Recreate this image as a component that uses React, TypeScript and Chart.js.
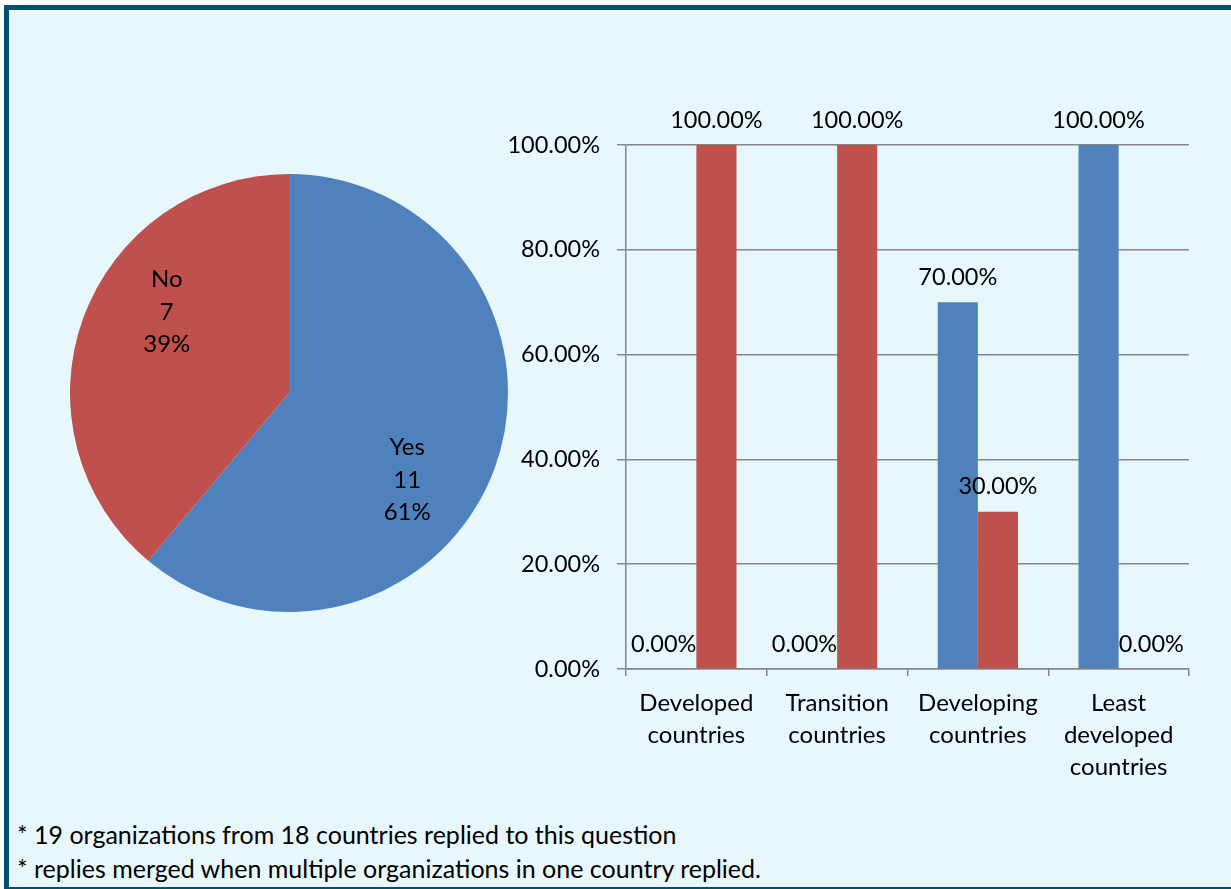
import React, { useEffect, useRef } from "react";
import { Chart, registerables } from "chart.js";

Chart.register(...registerables);

const pieLabels = ["Yes", "No"];
const pieValues = [11, 7];
const pieColors = ["#4F81BD", "#C0504D"];

const barCategories = [
  ["Developed", "countries"],
  ["Transition", "countries"],
  ["Developing", "countries"],
  ["Least", "developed", "countries"],
];
const seriesYes = [0, 0, 70, 100];
const seriesNo = [100, 100, 30, 0];
const yTicks = [0, 20, 40, 60, 80, 100];

const footnotes = [
  "* 19 organizations from 18 countries replied to this question",
  "* replies merged when multiple organizations in one country replied.",
];

const FONT = "Lato, 'Open Sans', sans-serif";
const FS = 24;
const FSN = 23.5;
const FSF = 25;
const GRID = "#868686";

const pieLabelPlugin = {
  id: "pieLabels",
  afterDatasetsDraw(chart: any) {
    const ctx = chart.ctx;
    const meta = chart.getDatasetMeta(0);
    const data = chart.data.datasets[0].data as number[];
    const total = data.reduce((a, b) => a + b, 0);
    const shift = (15 * Math.PI) / 180;
    ctx.save();
    ctx.font = `${FS}px ${FONT}`;
    ctx.fillStyle = "#000";
    ctx.textAlign = "center";
    ctx.textBaseline = "middle";
    meta.data.forEach((arc: any, i: number) => {
      const p = arc.getProps(["x", "y", "startAngle", "endAngle", "outerRadius"], true);
      const a = (p.startAngle + p.endAngle) / 2 + shift;
      const r = p.outerRadius * 0.67;
      const cx = p.x + Math.cos(a) * r - 2;
      const cy = p.y + Math.sin(a) * r + 3;
      const lines = [
        String(chart.data.labels[i]),
        String(data[i]),
        Math.round((data[i] / total) * 100) + "%",
      ];
      lines.forEach((t, k) => ctx.fillText(t, cx, cy + (k - 1) * 32.5));
    });
    ctx.restore();
  },
};

const barLabelPlugin = {
  id: "barLabels",
  afterDatasetsDraw(chart: any) {
    const ctx = chart.ctx;
    ctx.save();
    ctx.font = `${FSN}px ${FONT}`;
    ctx.fillStyle = "#000";
    ctx.textBaseline = "middle";
    chart.data.datasets.forEach((ds: any, di: number) => {
      const meta = chart.getDatasetMeta(di);
      meta.data.forEach((bar: any, i: number) => {
        const v = ds.data[i] as number;
        const p = bar.getProps(["x", "y", "width"], true);
        let x = p.x;
        if (v === 0) {
          if (di === 0) {
            ctx.textAlign = "right";
            x = p.x + p.width / 2;
          } else {
            ctx.textAlign = "left";
            x = p.x - p.width / 2;
          }
        } else {
          ctx.textAlign = "center";
        }
        ctx.fillText(v.toFixed(2) + "%", x, p.y - 25);
      });
    });
    ctx.restore();
  },
};

function PieChart() {
  const ref = useRef<HTMLCanvasElement>(null);
  useEffect(() => {
    const chart = new Chart(ref.current!, {
      type: "pie",
      data: {
        labels: pieLabels,
        datasets: [
          {
            data: pieValues,
            backgroundColor: pieColors,
            borderWidth: 0,
          },
        ],
      },
      options: {
        animation: false,
        responsive: false,
        maintainAspectRatio: false,
        layout: { padding: 10 },
        plugins: { legend: { display: false }, tooltip: { enabled: false } },
      },
      plugins: [pieLabelPlugin],
    });
    return () => chart.destroy();
  }, []);
  return (
    <canvas
      ref={ref}
      width={458}
      height={458}
      style={{ position: "absolute", left: 60, top: 164, width: 458, height: 458 }}
    />
  );
}

function BarChart() {
  const ref = useRef<HTMLCanvasElement>(null);
  useEffect(() => {
    const chart = new Chart(ref.current!, {
      type: "bar",
      data: {
        labels: barCategories as any,
        datasets: [
          { label: "Yes", data: seriesYes, backgroundColor: "#4F81BD", borderWidth: 0 },
          { label: "No", data: seriesNo, backgroundColor: "#C0504D", borderWidth: 0 },
        ],
      },
      options: {
        animation: false,
        responsive: false,
        maintainAspectRatio: false,
        layout: { padding: { top: 55, right: 31, left: 0, bottom: 0 } },
        datasets: { bar: { categoryPercentage: 0.57, barPercentage: 1.0 } },
        plugins: { legend: { display: false }, tooltip: { enabled: false } },
        scales: {
          x: {
            grid: {
              offset: true,
              drawOnChartArea: false,
              drawTicks: true,
              tickLength: 7,
              color: GRID,
              lineWidth: 1.5,
            },
            border: { color: GRID, width: 1.5 },
            ticks: {
              color: "#000",
              font: { family: FONT, size: FS, lineHeight: "32px" } as any,
              padding: 11,
              maxRotation: 0,
              autoSkip: false,
            },
            afterFit(scale: any) {
              scale.height = 121;
            },
          },
          y: {
            min: 0,
            max: 100,
            afterBuildTicks(scale: any) {
              scale.ticks = yTicks.map((v) => ({ value: v }));
            },
            grid: { color: GRID, lineWidth: 1.5, tickLength: 9 },
            border: { color: GRID, width: 1.5 },
            ticks: {
              color: "#000",
              font: { family: FONT, size: FSN },
              padding: 17,
              callback: (v: any) => Number(v).toFixed(2) + "%",
            },
            afterFit(scale: any) {
              scale.width = 136;
            },
          },
        },
      },
      plugins: [barLabelPlugin],
    });
    return () => chart.destroy();
  }, []);
  return (
    <canvas
      ref={ref}
      width={730}
      height={700}
      style={{ position: "absolute", left: 490, top: 90, width: 730, height: 700 }}
    />
  );
}

export default function App() {
  return (
    <div
      style={{
        position: "fixed",
        left: 0,
        top: 0,
        width: 1231,
        height: 889,
        background: "#fff",
        overflow: "hidden",
      }}
    >
      <div
        style={{
          position: "absolute",
          left: 4,
          top: 5,
          width: 1260,
          height: 877,
          border: "5px solid #00506E",
          background: "#E8F7FC",
        }}
      />
      <PieChart />
      <BarChart />
      {footnotes.map((t, i) => (
        <div
          key={i}
          style={{
            position: "absolute",
            left: 17,
            top: 834 + i * 34 - 16,
            height: 32,
            lineHeight: "32px",
            fontFamily: FONT,
            fontSize: FSF,
            color: "#000",
            whiteSpace: "nowrap",
          }}
        >
          {t}
        </div>
      ))}
    </div>
  );
}
